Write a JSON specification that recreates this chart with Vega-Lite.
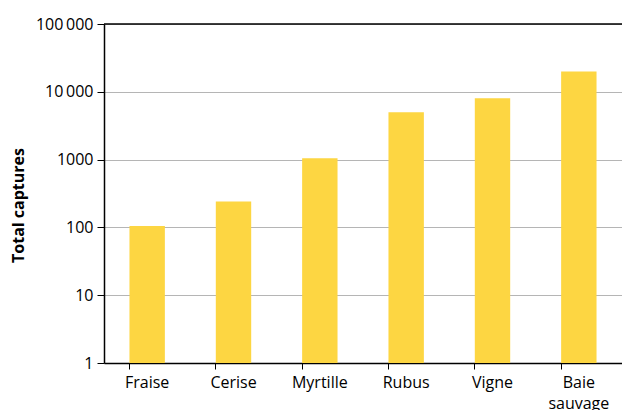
{
  "$schema": "https://vega.github.io/schema/vega-lite/v6.json",
  "width": 518,
  "height": 339,
  "autosize": {"type": "none"},
  "padding": {"left": 104, "top": 24, "right": 0, "bottom": 47},
  "background": "white",
  "config": {
    "view": {"stroke": null},
    "font": "Open Sans"
  },
  "datasets": {
    "bars": [
      {"plante": "Fraise", "captures": 105},
      {"plante": "Cerise", "captures": 240},
      {"plante": "Myrtille", "captures": 1050},
      {"plante": "Rubus", "captures": 5000},
      {"plante": "Vigne", "captures": 8000},
      {"plante": "Baie sauvage", "captures": 20000}
    ],
    "top": [{"v": 100000}]
  },
  "layer": [
    {
      "data": {"name": "bars"},
      "mark": {"type": "bar", "color": "#FDD642"},
      "encoding": {
        "x": {
          "field": "plante",
          "type": "nominal",
          "sort": null,
          "scale": {"paddingInner": 0.59, "paddingOuter": 0.295},
          "axis": {
            "title": null,
            "labelAngle": 0,
            "labelFont": "Open Sans",
            "labelFontSize": 16,
            "labelColor": "#000",
            "labelPadding": 5,
            "bandPosition": 0,
            "tickColor": "#000",
            "tickSize": 6,
            "domainColor": "#000",
            "domainWidth": 1.5,
            "labelExpr": "datum.label == 'Baie sauvage' ? ['Baie', 'sauvage'] : datum.label",
            "labelLineHeight": 21
          }
        },
        "y": {
          "field": "captures",
          "type": "quantitative",
          "stack": null,
          "scale": {"type": "log", "domain": [1, 100000], "nice": false},
          "axis": {
            "title": "Total captures",
            "titleFont": "Open Sans",
            "titleFontSize": 16,
            "titleFontWeight": "bold",
            "titleColor": "#000",
            "titleX": -86,
            "titleY": 181,
            "titleBaseline": "middle",
            "titleAlign": "center",
            "titleAngle": -90,
            "values": [1, 10, 100, 1000, 10000, 100000],
            "labelExpr": "datum.value >= 10000 ? replace(format(datum.value, ','), /,/g, '\u2009') : format(datum.value, 'd')",
            "labelFont": "Open Sans",
            "labelFontSize": 16,
            "labelColor": "#000",
            "labelPadding": 4,
            "tickColor": "#000",
            "tickSize": 7,
            "domainColor": "#000",
            "domainWidth": 1.5,
            "grid": true,
            "gridColor": "#b5b5b5",
            "gridWidth": 1.2
          }
        }
      }
    },
    {
      "data": {"name": "top"},
      "mark": {"type": "rule", "color": "#000", "strokeWidth": 1.5},
      "encoding": {
        "y": {"field": "v", "type": "quantitative"}
      }
    }
  ]
}
